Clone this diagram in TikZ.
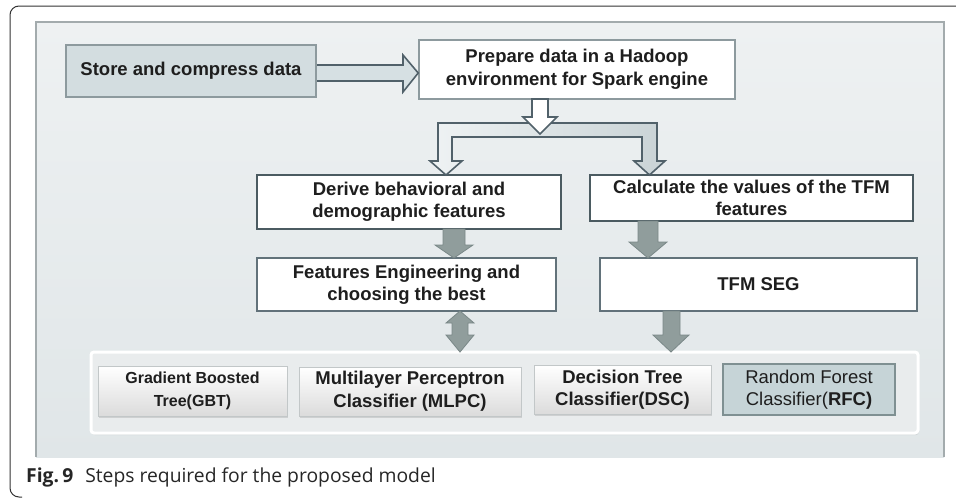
\documentclass[tikz,border=0pt]{standalone}
\usepackage{fontspec}
\setmainfont{Liberation Sans}
\newfontfamily\capfont{Open Sans}
\usetikzlibrary{shadows}

\definecolor{panelTop}{HTML}{EEF1F2}
\definecolor{panelBot}{HTML}{E0E6E8}
\definecolor{panelEdge}{HTML}{A3ABAD}
\definecolor{darkEdge}{HTML}{4B5B61}
\definecolor{midEdge}{HTML}{62727A}
\definecolor{lightEdge}{HTML}{8D9A9E}
\definecolor{storeFill}{HTML}{D3DDE0}
\definecolor{hollowFill}{HTML}{D6E0E3}
\definecolor{hollowEdge}{HTML}{51616A}
\definecolor{solidFill}{HTML}{909D9C}
\definecolor{solidEdge}{HTML}{7A8888}
\definecolor{rfcFill}{HTML}{C6D4D7}
\definecolor{rfcEdge}{HTML}{7F9092}
\definecolor{algEdge}{HTML}{C2C7C8}
\definecolor{textCol}{HTML}{1E1E1E}

\tikzset{
  box/.style={draw, fill=white, line width=2pt, inner sep=0pt, align=center,
    text=textCol, font=\bfseries\fontsize{18.5}{22.5}\selectfont},
  algbox/.style={draw=algEdge, line width=0.8pt, inner sep=0pt, align=center,
    top color=white, bottom color=black!14, text=textCol,
    drop shadow={shadow xshift=0.5pt, shadow yshift=-2pt, opacity=0.25},
    font=\bfseries\fontsize{18.5}{23}\selectfont},
  hollow/.style={draw=hollowEdge, line width=1.6pt, line join=miter, fill=hollowFill},
  solid/.style={draw=solidEdge, line width=0.8pt, fill=solidFill, line join=miter},
}

\begin{document}
\begin{tikzpicture}[x=1pt, y=-1pt]
\useasboundingbox (0,0) rectangle (956,499);
\fill[white] (0,0) rectangle (956,499);

% figure frame
\draw[black!80, line width=1pt, rounded corners=9pt]
  (960,6) -- (10,6) -- (10,497) -- (22,497);

% shaded backdrop
\shade[top color=panelTop, bottom color=panelBot] (36,22) rectangle (944,457);
\draw[panelEdge, line width=1.5pt] (36,457) -- (36,22) -- (944,22) -- (944,457);

% process steps
\node[box, draw=lightEdge, fill=storeFill, minimum width=250pt, minimum height=52pt]
  (store) at (191,71) {Store and compress data};
\node[box, draw=lightEdge, line width=1.6pt, minimum width=316pt, minimum height=59pt]
  (prep) at (577,69.5) {Prepare data in a Hadoop\\environment for Spark engine};
\node[box, draw=darkEdge, minimum width=304pt, minimum height=54pt]
  (derive) at (409,202) {Derive behavioral and\\demographic features};
\node[box, draw=darkEdge, minimum width=323pt, minimum height=46pt]
  (calc) at (751.5,198) {Calculate the values of the TFM\\features};
\node[box, draw=midEdge, minimum width=299pt, minimum height=53pt]
  (feat) at (406.5,284.5) {Features Engineering and\\choosing the best};
\node[box, draw=midEdge, minimum width=317pt, minimum height=53pt]
  (tfm) at (758.5,284.5) {TFM SEG};

% classifier tray
\node[draw=white, line width=3pt, fill=black!2!panelTop, rounded corners=3pt,
  minimum width=827pt, minimum height=81pt, inner sep=0pt,
  drop shadow={shadow xshift=1pt, shadow yshift=-2pt, opacity=0.2}]
  (tray) at (504.5,392.5) {};
\node[algbox, minimum width=189pt, minimum height=50pt, font=\bfseries\fontsize{16}{22.5}\selectfont]
  (gbt) at (192.5,391) {Gradient Boosted\\Tree(GBT)};
\node[algbox, minimum width=222pt, minimum height=49pt]
  (mlpc) at (410,391.5) {Multilayer Perceptron\\Classifier (MLPC)};
\node[algbox, minimum width=177pt, minimum height=49pt, font=\bfseries\fontsize{18.5}{22}\selectfont]
  (dsc) at (622.5,389.5) {Decision Tree\\Classifier(DSC)};
\node[draw=rfcEdge, fill=rfcFill, line width=2pt, inner sep=0pt, align=center,
  text=textCol, font=\fontsize{18.5}{22}\selectfont, minimum width=172pt, minimum height=51pt]
  (rfc) at (809,389.5) {Random Forest\\Classifier(\textbf{RFC)}};

% hollow arrow: store -> prepare
\draw[hollow] (store.east |- 0,65) -- (403,65) -- (403,55) -- (prep.west |- 0,73)
  -- (403,92) -- (403,81) -- (store.east |- 0,81);

% split arrow from prepare to the two branches
\draw[hollow, left color=white!60!hollowFill, right color=black!6!hollowFill]
  (438,123) -- (657,123) -- (657,161) -- (665,161) -- (649.5,175) -- (634,161)
  -- (642,161) -- (642,137) -- (452,137) -- (452,161) -- (462,161)
  -- (446,175) -- (430,161) -- (438,161) -- cycle;
\draw[hollow, fill=white]
  (532,99) -- (548,99) -- (548,117) -- (557,117) -- (540,134) -- (523,117)
  -- (532,117) -- cycle;

% solid arrows
\draw[solid] (443,229) -- (465,229) -- (465,245) -- (473,245) -- (454,258)
  -- (435,245) -- (443,245) -- cycle;
\draw[solid] (638,221) -- (658,221) -- (658,242) -- (667,242) -- (648,258)
  -- (629,242) -- (638,242) -- cycle;
\draw[solid] (460,311) -- (474,323) -- (468,323) -- (468,335) -- (474,335)
  -- (460,352) -- (446,335) -- (452,335) -- (452,323) -- (446,323) -- cycle;
\draw[solid] (663,311) -- (680,311) -- (680,335) -- (689,335) -- (671,352)
  -- (653,335) -- (663,335) -- cycle;

% caption
\node[anchor=base west, inner sep=0pt, text=black!85]
  (cap) at (26,482) {\capfont\fontsize{19.3}{22}\selectfont\textbf{Fig.\,9}\hspace{12pt}Steps required for the proposed model};
\end{tikzpicture}
\end{document}
